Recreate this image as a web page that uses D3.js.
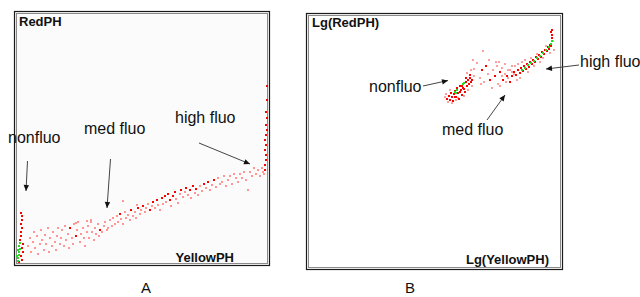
<!DOCTYPE html>
<html><head><meta charset="utf-8">
<script src="https://cdn.jsdelivr.net/npm/d3@7"></script>
<style>html,body{margin:0;padding:0;background:#fff;} svg{display:block;}</style>
</head><body><svg id="c" width="640" height="297"></svg>
<script>
// ---- Panel A (linear scale): [YellowPH, RedPH] intensities ----
const aGreen = [[8,24],[12,36],[12,48],[16,60],[8,12],[12,72],[16,84],[8,56],[4,32]];
const aRed = [[16,96],[20,112],[20,128],[24,144],[20,160],[24,176],[24,192],[20,204],[28,80],[24,64],[12,8],[28,48],[24,16],[20,32],
  [216,144],[240,112],[336,136],[536,216],[548,248],[564,256],[584,264],[596,272],[608,280],[616,256],[628,272],[636,288],[660,296],[680,304],[696,296],[708,312],[720,300],[752,320],[768,328],[792,336],[416,200],[460,216],[488,224],[508,232],
  [996,396],[1000,436],[1000,476],[1000,516],[1004,536],[1000,556],[1004,584],[1000,608],[1004,656],[1004,712],[996,376],[1000,416],[996,456],[996,496]];
const aPink = [[48,72],[56,104],[60,48],[68,88],[72,128],[76,64],[84,112],[88,40],[96,80],[100,136],[104,96],[112,56],[116,116],[120,80],[128,144],[132,48],[136,104],[144,72],[148,128],[156,88],[160,56],[164,112],[168,144],[176,80],
  [180,104],[184,136],[192,72],[196,152],[200,96],[208,120],[212,64],[224,104],[228,80],[232,160],[244,136],[248,168],[256,88],[260,120],[268,144],[272,104],[276,72],[284,128],[288,152],[292,104],[300,168],[304,128],[312,96],[316,144],[320,120],[328,160],[332,112],
  [240,164],[284,172],[300,176],[428,252],[484,236],
  [344,128],[352,152],[356,168],[364,136],[368,144],[376,176],[384,152],[388,184],[396,160],[404,192],[408,168],[420,180],[428,160],[436,208],[440,184],[448,196],[456,176],[468,192],[476,208],[480,184],[496,200],[500,216],[516,208],[520,224],[528,240],[544,232],[556,224],[568,236],[576,216],
  [588,240],[600,248],[620,232],[640,260],[648,244],[656,280],[668,268],[676,288],[688,276],[700,264],[716,284],[728,276],[736,312],
  [744,292],[760,304],[776,296],[784,316],[800,308],[808,344],[816,320],[824,328],[832,352],[840,312],[848,336],[856,352],[864,320],[872,360],[880,344],[888,328],[896,360],[904,344],[912,368],[920,336],[928,296],[936,368],[944,352],[952,384],[960,360],[968,376],[976,352],[984,384],[988,368],[992,360]];

// ---- Panel B (log scale): [Lg(YellowPH), Lg(RedPH)] ----
const bGreen = [[588,700],[596,708],[592,696],[620,732],[624,736],[856,788],[868,796],[880,808],[892,816],[904,824],[916,836],[928,844],[940,856],[952,868],[964,880],[972,892],[976,904]];
const bRed = [[556,672],[564,684],[568,668],[572,696],[576,680],[580,664],[584,692],[588,704],[592,680],[596,716],[600,696],[604,672],[608,724],[612,708],[616,688],[620,716],[624,712],[628,700],[632,740],[636,724],[640,748],[644,732],[648,756],[652,740],[632,756],[648,768],[656,748],[608,700],[588,680],[616,724],
  [696,788],[712,804],[728,748],[748,764],[768,780],[780,748],[796,764],[808,740],
  [816,764],[824,780],[832,768],[840,788],[848,776],[852,796],[860,784],[864,804],[872,792],[876,812],[884,800],[888,820],[896,812],[900,828],[908,820],[912,840],[920,832],[924,848],[932,840],[936,860],[944,852],[948,868],[956,864],[960,880],[964,872],[968,888],[972,884],[976,916],[976,928],[972,940],[976,948]];
const bPink = [[548,680],[560,660],[576,656],[592,668],[600,676],[624,684],[640,708],[656,724],[664,764],[660,828],[676,816],[664,792],[652,788],[636,776],[552,692],[568,708],
  [688,756],[704,740],[720,772],[736,716],[740,788],[756,804],[760,732],[776,796],[788,812],[800,788],[816,804],[824,772],[700,864],[692,732],[724,828],[752,820],[764,820],[776,764],[792,740],[768,724],
  [788,772],[800,756],[808,788],[828,804],[840,812],[848,756],[856,820],[868,828],[880,780],[892,836],[904,804],[916,852],[928,820],[940,836],[836,748],[816,780],[952,884],[980,904],[984,868],[968,856]];

const panelNames = ["A","B"];
const titlesA = ["YellowPH","RedPH"];
const titlesB = ["Lg(YellowPH)","Lg(RedPH)"];
const groups = ["nonfluo","med fluo","high fluo"];

const svg = d3.select("#c");
const FONT = "'Liberation Sans', Arial, sans-serif";

svg.append("defs").append("marker")
  .attr("id","ah").attr("viewBox","0 0 10 10").attr("refX",10).attr("refY",5)
  .attr("markerWidth",7).attr("markerHeight",6).attr("markerUnits","userSpaceOnUse")
  .attr("orient","auto")
  .append("path").attr("d","M0,0.5L10,5L0,9.5z").attr("fill","#111");

function drawPanel(cfg){
  const g = svg.append("g");
  g.append("rect").attr("x",cfg.box[0]+0.5).attr("y",cfg.box[1]+0.5)
    .attr("width",cfg.box[2]-cfg.box[0]).attr("height",cfg.box[3]-cfg.box[1])
    .attr("fill",cfg.bg).attr("stroke","#1a1a1a").attr("stroke-width",1.2);
  g.append("rect").attr("x",cfg.box[0]+2.5).attr("y",cfg.box[1]+2.5)
    .attr("width",cfg.box[2]-cfg.box[0]-4).attr("height",cfg.box[3]-cfg.box[1]-4)
    .attr("fill","none").attr("stroke","#8a8a8a").attr("stroke-width",1);
  const x = d3.scaleLinear().domain(cfg.xd).range(cfg.xr);
  const y = d3.scaleLinear().domain(cfg.yd).range(cfg.yr);
  const layers = [[cfg.pink, cfg.pinkColor],[cfg.red,"#ff0000"],[cfg.green,"#22dd22"]];
  layers.forEach(([data,col])=>{
    g.append("g").attr("shape-rendering","crispEdges").selectAll("rect").data(data).join("rect")
      .attr("x",d=>Math.round(x(d[0]))-1).attr("y",d=>Math.round(y(d[1]))-1)
      .attr("width",2).attr("height",2).attr("fill",col);
  });
  g.append("text").attr("x",cfg.yTitle[0]).attr("y",cfg.yTitle[1])
    .attr("font-family",FONT).attr("font-weight","bold").attr("font-size",13)
    .attr("fill","#111").text(cfg.titles[1]);
  g.append("text").attr("x",cfg.xTitle[0]).attr("y",cfg.xTitle[1]).attr("text-anchor","end")
    .attr("font-family",FONT).attr("font-weight","bold").attr("font-size",13)
    .attr("fill","#111").text(cfg.titles[0]);
  cfg.ann.forEach((a,i)=>{
    g.append("text").attr("x",a.t[0]).attr("y",a.t[1])
      .attr("font-family",FONT).attr("font-size",16).attr("fill","#111").text(groups[i]);
    g.append("line").attr("x1",a.l[0]).attr("y1",a.l[1]).attr("x2",a.l[2]).attr("y2",a.l[3])
      .attr("stroke","#444").attr("stroke-width",1).attr("marker-end","url(#ah)");
  });
  g.append("text").attr("x",cfg.name[0]).attr("y",cfg.name[1]).attr("text-anchor","middle")
    .attr("font-family",FONT).attr("font-size",15).attr("fill","#111").text(cfg.name[2]);
}

drawPanel({
  box:[14,11,269,265], bg:"#fbfbfb",
  xd:[0,1008], xr:[16,268], yd:[0,1004], yr:[264,13],
  pink:aPink, red:aRed, green:aGreen, pinkColor:"#ff9595",
  titles:titlesA, yTitle:[19,26], xTitle:[234,262],
  ann:[{t:[8,143],l:[27.5,161,26,191]},{t:[84,134],l:[110.5,159,107,208]},{t:[175,123],l:[199,143,250,164]}],
  name:[146,293,panelNames[0]]
});
drawPanel({
  box:[306,13,562,269], bg:"#ffffff",
  xd:[0,1012], xr:[308,561], yd:[0,1008], yr:[267,15],
  pink:bPink, red:bRed, green:bGreen, pinkColor:"#ffa0a0",
  titles:titlesB, yTitle:[312,27], xTitle:[549,264],
  ann:[{t:[369,92],l:[423,86,448,80.5]},{t:[442,135],l:[487,120,505,95]},{t:[580,67],l:[579,65,546,69]}],
  name:[410,293,panelNames[1]]
});
</script></body></html>
